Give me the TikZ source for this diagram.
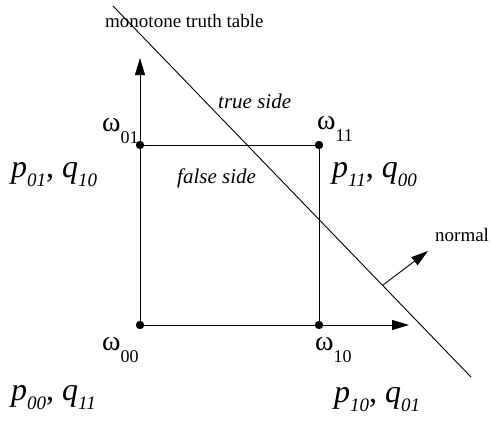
\documentclass[tikz,border=0pt]{standalone}
\usepackage{fontspec}
\setmainfont{Liberation Serif}
\usetikzlibrary{arrows.meta}
\newcommand\wlab[1]{{\fontsize{28}{28}\selectfont ω}\raisebox{-12pt}{\fontsize{18}{18}\selectfont #1}}
\newcommand\pqlab[2]{{\fontsize{32}{32}\selectfont\itshape p}\raisebox{-9pt}{\fontsize{19}{19}\selectfont\itshape #1}{\fontsize{32}{32}\selectfont , \itshape q}\raisebox{-9pt}{\fontsize{19}{19}\selectfont\itshape #2}}
\begin{document}
\begin{tikzpicture}[x=1pt,y=-1pt,
  ln/.style={line width=0.9pt},
  arr/.style={line width=0.9pt,-{Triangle[length=17pt,width=10pt]}},
  lbl/.style={anchor=base west,inner sep=0pt}]
\useasboundingbox (0,0) rectangle (491,421);
% points
\coordinate (w00) at (140,325);
\coordinate (w01) at (140,145);
\coordinate (w11) at (319,145);
\coordinate (w10) at (319,325);
\coordinate (ytip) at (140,58);
\coordinate (xtip) at (409,325);
\coordinate (dA) at (113,6);
\coordinate (dB) at (471,377);
\coordinate (nA) at (383,285);
\coordinate (nB) at (428,251);
% lines
\draw[arr] (w00) -- (ytip);
\draw[arr] (w00) -- (xtip);
\draw[ln] (w01) -- (w11) -- (w10);
\draw[ln] (dA) -- (dB);
\draw[arr] (nA) -- (nB);
% dots
\foreach \p in {w00,w01,w11,w10} \fill (\p) circle (4.2pt);
% labels
\node[lbl] (l00) at (102,350) {\wlab{00}};
\node[lbl] (l01) at (102,131) {\wlab{01}};
\node[lbl] (l11) at (317,129) {\wlab{11}};
\node[lbl] (l10) at (315,350) {\wlab{10}};
\node[lbl] (t1) at (105,27) {\fontsize{19}{19}\selectfont monotone truth table};
\node[lbl] (t2) at (218,108) {\fontsize{21}{21}\selectfont\itshape true side};
\node[lbl] (t3) at (177,183) {\fontsize{21}{21}\selectfont\itshape false side};
\node[lbl] (t4) at (435,241) {\fontsize{19}{19}\selectfont normal};
\node[lbl] (pq01) at (11,177) {\pqlab{01}{10}};
\node[lbl] (pq11) at (332,177) {\pqlab{11}{00}};
\node[lbl] (pq00) at (11,400) {\pqlab{00}{11}};
\node[lbl] (pq10) at (334,402) {\pqlab{10}{01}};
\end{tikzpicture}
\end{document}
